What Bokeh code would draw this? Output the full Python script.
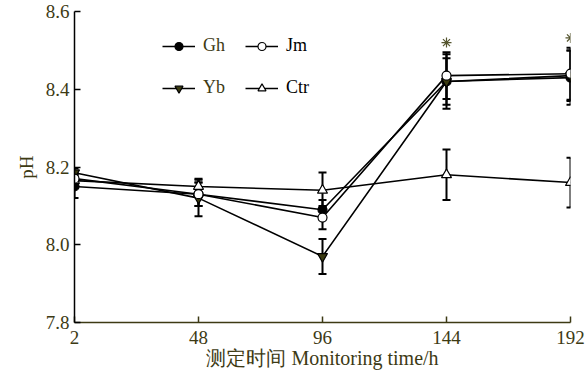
from bokeh.plotting import figure
from bokeh.models import (ColumnDataSource, Whisker, TeeHead, Legend, LegendItem,
                          FixedTicker, Range1d)
from bokeh.embed import file_html
from bokeh.resources import INLINE

# ---- data ----
times = ["2", "48", "96", "144", "192"]
gh = [8.15, 8.13, 8.09, 8.42, 8.43]
gh_sd = [0.03, 0.03, 0.025, 0.07, 0.07]
jm = [8.17, 8.13, 8.07, 8.435, 8.44]
jm_sd = [0.015, 0.03, 0.03, 0.06, 0.067]
yb = [8.185, 8.12, 7.97, 8.42, 8.435]
yb_sd = [0.012, 0.047, 0.045, 0.06, 0.065]
ctr = [8.165, 8.15, 8.14, 8.18, 8.16]
ctr_sd = [0.015, 0.02, 0.046, 0.065, 0.064]
sig = ["", "", "", "*", "*"]
y_ticks = [7.8, 8.0, 8.2, 8.4, 8.6]

OLIVE = "#3d3a14"
FONT = "Times New Roman"

xs = list(range(len(times)))

p = figure(width=587, height=380, output_backend="svg", toolbar_location=None,
           x_range=Range1d(0, len(times) - 1), y_range=Range1d(7.8, 8.6),
           min_border_left=74, min_border_right=17, min_border_top=11, min_border_bottom=58)
p.outline_line_color = None
p.grid.visible = False
p.background_fill_color = "white"
p.border_fill_color = "white"

series = [
    ("Gh", gh, gh_sd, "circle", "black", 9),
    ("Yb", yb, yb_sd, "inverted_triangle", "#3a3a10", 10),
    ("Ctr", ctr, ctr_sd, "triangle", "white", 10),
    ("Jm", jm, jm_sd, "circle", "white", 9),
]

renders = {}
for name, vals, sd, marker, fill, size in series:
    src = ColumnDataSource(dict(x=xs, y=vals,
                                lower=[v - s for v, s in zip(vals, sd)],
                                upper=[v + s for v, s in zip(vals, sd)]))
    w = Whisker(base="x", lower="lower", upper="upper", source=src,
                line_color="black", line_width=2, level="underlay",
                upper_head=TeeHead(size=8, line_width=2, line_color="black"),
                lower_head=TeeHead(size=8, line_width=2, line_color="black"))
    p.add_layout(w)
    lr = p.line("x", "y", source=src, line_color="black", line_width=1.6)
    renders[name] = (lr, src)

marker_rs = {}
for name, vals, sd, marker, fill, size in series:
    lr, src = renders[name]
    mr = p.scatter("x", "y", source=src, marker=marker, size=size,
                   fill_color=fill, line_color="black", line_width=1.2)
    marker_rs[name] = [lr, mr]

# significance asterisks above highest error bar
sx, sy = [], []
for i, s in enumerate(sig):
    if s:
        top = max(v[i] + d[i] for _, v, d, *_ in series)
        sx.append(xs[i]); sy.append(top + 0.025)
p.scatter(sx, sy, marker="asterisk", size=10, line_color="#55552f", line_width=1.2)

# axes
p.xaxis.ticker = FixedTicker(ticks=xs)
p.xaxis.major_label_overrides = {i: t for i, t in enumerate(times)}
p.yaxis.ticker = FixedTicker(ticks=y_ticks)
p.yaxis.major_label_overrides = {t: f"{t:.1f}" for t in y_ticks}
for ax in (p.xaxis[0], p.yaxis[0]):
    ax.major_tick_in = 6
    ax.major_tick_out = 0
    ax.minor_tick_line_color = None
    ax.major_label_text_font = FONT
    ax.major_label_text_font_size = "19px"
    ax.major_label_text_color = OLIVE
    ax.axis_label_text_font = FONT
    ax.axis_label_text_font_size = "19px"
    ax.axis_label_text_font_style = "normal"
    ax.axis_label_text_color = OLIVE
    ax.axis_line_width = 1.5
    ax.major_tick_line_width = 1.5
p.yaxis.axis_line_color = "black"
p.yaxis.major_tick_line_color = "black"
p.xaxis.axis_line_color = OLIVE
p.xaxis.major_tick_line_color = OLIVE
p.yaxis.axis_label = "pH"
p.yaxis.axis_label_standoff = 6
p.yaxis.major_label_standoff = 5
p.xaxis.axis_label = "测定时间 Monitoring time/h"
p.xaxis.major_label_standoff = 8
p.xaxis.axis_label_standoff = 0
p.xaxis.axis_label_text_font_size = "20px"


def make_legend(names, color, x):
    leg = Legend(items=[LegendItem(label=n, renderers=marker_rs[n]) for n in names],
                 location=(x, 224), orientation="vertical",
                 glyph_width=33, glyph_height=20, label_height=20, spacing=21,
                 label_standoff=8, padding=0, margin=0,
                 border_line_color=None, background_fill_alpha=0,
                 label_text_font=FONT, label_text_font_size="18px",
                 label_text_color=color)
    p.add_layout(leg, "center")


make_legend(["Gh", "Yb"], OLIVE, 88)
make_legend(["Jm", "Ctr"], "black", 171)

open("out.html", "w").write(file_html(p, INLINE))
